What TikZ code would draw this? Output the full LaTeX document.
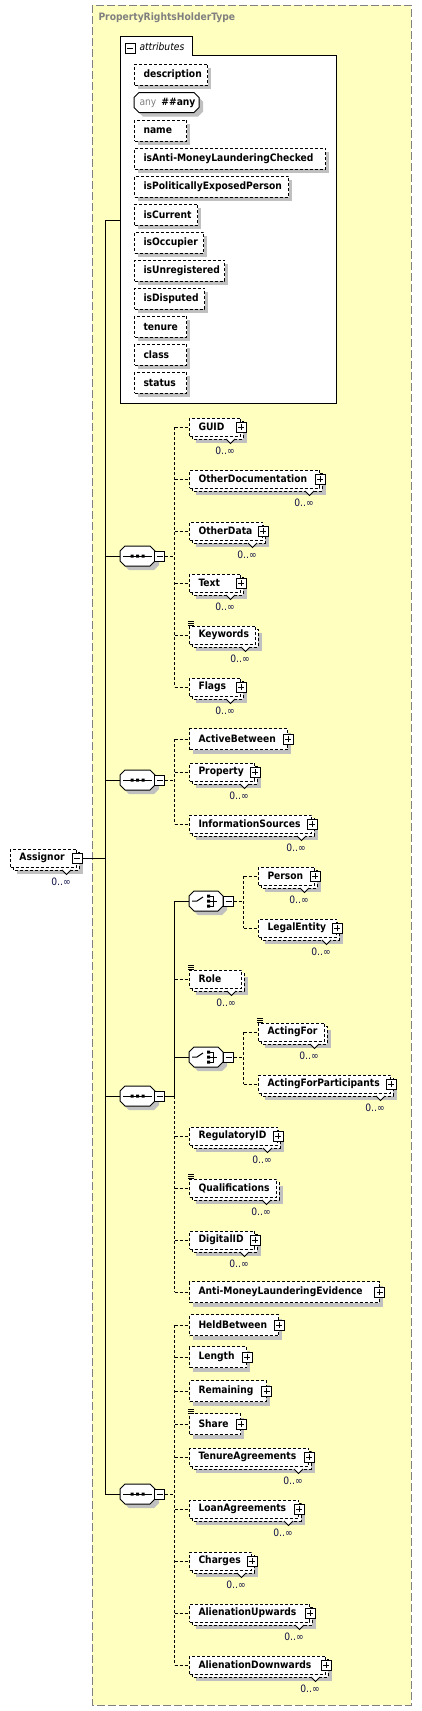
\documentclass[tikz,border=0pt]{standalone}
\usepackage{fontspec}
\setmainfont{DejaVu Sans Condensed}
\definecolor{bgyellow}{RGB}{255,255,192}
\definecolor{framegrey}{RGB}{128,128,128}
\definecolor{shadegrey}{RGB}{192,192,192}
\definecolor{multblue}{RGB}{16,16,72}
\tikzset{
  dashline/.style={dash pattern=on 3pt off 2pt},
  elbox/.style={draw,dashline,fill=white,anchor=west,inner sep=0pt,minimum height=18pt,font=\fontsize{10.2}{12}\selectfont\bfseries},
  mult/.style={inner sep=0pt,text=multblue,font=\fontsize{10.2}{12}\selectfont},
  pbox/.style={draw,solid,fill=white,minimum size=10pt,inner sep=0pt},
}
\newcommand\octo[4][]{\path[#1] (#2,#3-5) -- (#2+5,#3-10) -- (#2+#4-5,#3-10) -- (#2+#4,#3-5) -- (#2+#4,#3+5) -- (#2+#4-5,#3+10) -- (#2+5,#3+10) -- (#2,#3+5) -- cycle;}
\newcommand\minusbox[2]{\node[pbox] (#1) at (#2) {}; \draw (#1.center) +(-3,0) -- +(3,0);}
\newcommand\plusbox[1]{\node[pbox] (#1p) at (#1.east) {}; \draw (#1p.center) +(-3,0) -- +(3,0) +(0,-3) -- +(0,3);}
\newcommand\listicon[1]{\draw[line width=0.6pt] ([shift={(-1,-4)}]#1.north west) -- ++(6,0) ([shift={(-1,-2)}]#1.north west) -- ++(6,0) ([shift={(-1,0)}]#1.north west) -- ++(6,0);}
\newcommand\oneel[5]{%
  \fill[shadegrey] (#2+4,#3-6.5) rectangle (#4+4,#3+14.5);
  \node[elbox,minimum height=21pt] (#1) at (#2,#3) {\makebox[\dimexpr#4pt-#2pt\relax][l]{\hspace{9pt}#5}};}
\newcommand\manyel[5]{%
  \fill[shadegrey] (#2+7,#3-2) rectangle (#4+7,#3+16);
  \draw[dashline,fill=white] (#2+3,#3-6) rectangle (#4+3,#3+12);
  \filldraw[fill=white] (#4-14,#3+12) -- (#4-9.5,#3+16.5) -- (#4-5,#3+12);
  \node[elbox] (#1) at (#2,#3) {\makebox[\dimexpr#4pt-#2pt\relax][l]{\hspace{9pt}#5}};
  \node[mult] (#1n) at (#4-15,#3+24) {0..∞};}
\newcommand\seqbox[3]{%
  \octo[fill=shadegrey]{#2+4}{#3+4}{35}
  \octo[draw,fill=white]{#2}{#3}{35}
  \node[inner sep=0pt,minimum width=35pt,minimum height=20pt] (#1) at (#2+17.5,#3) {};
  \draw (#1.center) +(-14.5,0) -- +(14.5,0);
  \fill (#1.center) +(-7,-1.5) rectangle +(-4,1.5) +(-1.5,-1.5) rectangle +(1.5,1.5) +(4,-1.5) rectangle +(7,1.5);
  \minusbox{#1m}{#2+39.5,#3}}
\newcommand\choicebox[3]{%
  \octo[fill=shadegrey]{#2+4}{#3+4}{34}
  \octo[draw,fill=white]{#2}{#3}{34}
  \node[inner sep=0pt,minimum width=34pt,minimum height=20pt] (#1) at (#2+17,#3) {};
  \draw (#1.center) +(-14,0) -- +(-9,0) -- +(-3,-4);
  \fill (#1.center) +(1,-6.5) rectangle +(4,-3.5) +(1,-1.5) rectangle +(4,1.5) +(1,3.5) rectangle +(4,6.5);
  \draw (#1.center) +(4,-5) -- +(7,-5) -- +(7,5) -- +(4,5) +(4,0) -- +(11,0);
  \minusbox{#1m}{#2+39.5,#3}}

\begin{document}
\begin{tikzpicture}[x=1pt,y=-1pt,line width=1pt]
\useasboundingbox (0,0) rectangle (422,1711);
\draw[framegrey,dash pattern=on 8pt off 3pt,fill=bgyellow] (92,5) rectangle (411,1705);
\node[anchor=west,inner sep=0pt,text=framegrey,font=\fontsize{10.2}{12}\selectfont\bfseries] (title) at (98,18) {PropertyRightsHolderType};

\draw[fill=white] (120,36) -- (192,36) -- (192,55) -- (336,55) -- (336,403) -- (120,403) -- cycle;
\minusbox{attrm}{130,48}
\node[anchor=west,inner sep=0pt,font=\fontsize{10.2}{12}\selectfont\itshape] (attrtitle) at (139,47) {attributes};
\coordinate (attrs) at (120,220);
\oneel{description}{134}{74.5}{207}{description}
\octo[fill=shadegrey]{138}{106.5}{65}
\octo[draw,fill=white]{134}{102.5}{65}
\node[anchor=west,inner sep=0pt,font=\fontsize{10.2}{12}\selectfont] (anyattr) at (139,102.5) {\textcolor{framegrey}{any}\hspace{5pt}\textbf{\#\#any}};
\oneel{name}{134}{130.5}{186}{name}
\oneel{amlchecked}{134}{158.5}{325}{isAnti-MoneyLaunderingChecked}
\oneel{pep}{134}{186.5}{288}{isPoliticallyExposedPerson}
\oneel{current}{134}{214.5}{197}{isCurrent}
\oneel{occupier}{134}{242.5}{203}{isOccupier}
\oneel{unregistered}{134}{270.5}{224}{isUnregistered}
\oneel{disputed}{134}{298.5}{204}{isDisputed}
\oneel{tenure}{134}{326.5}{186}{tenure}
\oneel{class}{134}{354.5}{186}{class}
\oneel{status}{134}{382.5}{186}{status}

\manyel{Assignor}{10}{858}{76}{Assignor}
\minusbox{Assignorm}{Assignor.east}
\coordinate (spine) at (105,858);

\seqbox{s1}{120}{556}
\manyel{GUID}{189}{427}{240}{GUID} \plusbox{GUID}
\manyel{OtherDocumentation}{189}{479}{319}{OtherDocumentation} \plusbox{OtherDocumentation}
\manyel{OtherData}{189}{531}{262}{OtherData} \plusbox{OtherData}
\manyel{Text}{189}{583}{240}{Text} \plusbox{Text}
\manyel{Keywords}{189}{635}{255}{Keywords} \listicon{Keywords}
\manyel{Flags}{189}{687}{240}{Flags} \plusbox{Flags}

\seqbox{s2}{120}{780}
\oneel{ActiveBetween}{189}{739}{287}{ActiveBetween} \plusbox{ActiveBetween}
\manyel{Property}{189}{772}{254}{Property} \plusbox{Property}
\manyel{InformationSources}{189}{824}{311}{InformationSources} \plusbox{InformationSources}

\seqbox{s3}{120}{1096}
\choicebox{c1}{189}{901}
\manyel{Person}{258}{876}{314}{Person} \plusbox{Person}
\manyel{LegalEntity}{258}{928}{336}{LegalEntity} \plusbox{LegalEntity}
\manyel{Role}{189}{979}{241}{Role} \listicon{Role}
\choicebox{c2}{189}{1057}
\manyel{ActingFor}{258}{1032}{324}{ActingFor} \listicon{ActingFor}
\manyel{ActingForParticipants}{258}{1084}{390}{ActingForParticipants} \plusbox{ActingForParticipants}
\manyel{RegulatoryID}{189}{1136}{277}{RegulatoryID} \plusbox{RegulatoryID}
\manyel{Qualifications}{189}{1188}{276}{Qualifications} \listicon{Qualifications}
\manyel{DigitalID}{189}{1240}{254}{DigitalID} \plusbox{DigitalID}
\oneel{amlevidence}{189}{1292}{378.5}{Anti-MoneyLaunderingEvidence} \plusbox{amlevidence}

\seqbox{s4}{120}{1494}
\oneel{HeldBetween}{189}{1325}{278}{HeldBetween} \plusbox{HeldBetween}
\oneel{Length}{189}{1357}{246}{Length} \plusbox{Length}
\oneel{Remaining}{189}{1391}{265.5}{Remaining} \plusbox{Remaining}
\oneel{Share}{189}{1424}{240}{Share} \plusbox{Share} \listicon{Share}
\manyel{TenureAgreements}{189}{1457}{308}{TenureAgreements} \plusbox{TenureAgreements}
\manyel{LoanAgreements}{189}{1509}{298}{LoanAgreements} \plusbox{LoanAgreements}
\manyel{Charges}{189}{1561}{251}{Charges} \plusbox{Charges}
\manyel{AlienationUpwards}{189}{1613}{309}{AlienationUpwards} \plusbox{AlienationUpwards}
\manyel{AlienationDownwards}{189}{1665}{325}{AlienationDownwards} \plusbox{AlienationDownwards}

\draw (Assignorm.east) -- (spine);
\draw (attrs -| spine) -- (s4.west -| spine);
\foreach \n in {attrs,s1.west,s2.west,s3.west,s4.west} \draw (\n -| spine) -- (\n);

\coordinate (j1) at ([shift={(9.5,0)}]s1m.east);
\draw[dashline] (s1m.east) -- (j1);
\draw[dashline] (GUID.west -| j1) -- (Flags.west -| j1);
\foreach \n in {GUID,OtherDocumentation,OtherData,Text,Keywords,Flags} \draw[dashline] (\n.west -| j1) -- (\n.west);

\coordinate (j2) at ([shift={(9.5,0)}]s2m.east);
\draw[dashline] (s2m.east) -- (j2);
\draw[dashline] (ActiveBetween.west -| j2) -- (InformationSources.west -| j2);
\foreach \n in {ActiveBetween,Property,InformationSources} \draw[dashline] (\n.west -| j2) -- (\n.west);

\coordinate (j3) at ([shift={(9.5,0)}]s3m.east);
\draw (s3m.east) -- (j3) -- (c1.west -| j3) -- (c1.west);
\draw (c2.west -| j3) -- (c2.west);
\draw[dashline] (j3) -- (amlevidence.west -| j3);
\foreach \n in {Role,RegulatoryID,Qualifications,DigitalID,amlevidence} \draw[dashline] (\n.west -| j3) -- (\n.west);

\coordinate (k1) at ([shift={(9.5,0)}]c1m.east);
\draw[dashline] (c1m.east) -- (k1);
\draw[dashline] (Person.west -| k1) -- (LegalEntity.west -| k1);
\foreach \n in {Person,LegalEntity} \draw[dashline] (\n.west -| k1) -- (\n.west);

\coordinate (k2) at ([shift={(9.5,0)}]c2m.east);
\draw[dashline] (c2m.east) -- (k2);
\draw[dashline] (ActingFor.west -| k2) -- (ActingForParticipants.west -| k2);
\foreach \n in {ActingFor,ActingForParticipants} \draw[dashline] (\n.west -| k2) -- (\n.west);

\coordinate (j4) at ([shift={(9.5,0)}]s4m.east);
\draw[dashline] (s4m.east) -- (j4);
\draw[dashline] (HeldBetween.west -| j4) -- (AlienationDownwards.west -| j4);
\foreach \n in {HeldBetween,Length,Remaining,Share,TenureAgreements,LoanAgreements,Charges,AlienationUpwards,AlienationDownwards} \draw[dashline] (\n.west -| j4) -- (\n.west);
\end{tikzpicture}
\end{document}
